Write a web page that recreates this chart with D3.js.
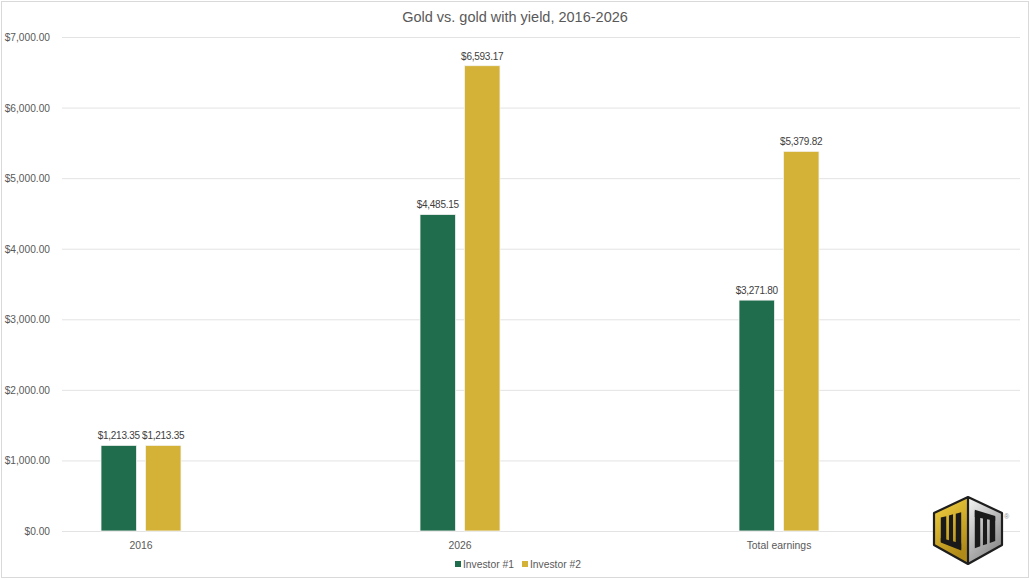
<!DOCTYPE html>
<html>
<head>
<meta charset="utf-8">
<script src="https://cdn.jsdelivr.net/npm/d3@7"></script>
<style>
    body { margin: 0; background: #fff; }
    svg { display: block; font-family: "Liberation Sans", Arial, sans-serif; }
</style>
</head>
<body>
<div id="chart"></div>
<script>
// chart data
const categories = ["2016", "2026", "Total earnings"];
const seriesNames = ["Investor #1", "Investor #2"];
const investor1 = [1213.35, 4485.15, 3271.80];
const investor2 = [1213.35, 6593.17, 5379.82];
const yTicks = [0, 1000, 2000, 3000, 4000, 5000, 6000, 7000];
const colors = ["#206d4d", "#d4b237"];

const width = 1030, height = 580;
const plotLeft = 62, plotRight = 1020, plotTop = 37, plotBottom = 531;

const svg = d3.select("#chart").append("svg")
    .attr("width", width)
    .attr("height", height);

// outer border
svg.append("rect")
    .attr("x", 1.5).attr("y", 1.5)
    .attr("width", width - 3).attr("height", height - 4)
    .attr("fill", "none")
    .attr("stroke", "#d9d9d9");

svg.append("text")
    .attr("x", 515).attr("y", 22)
    .attr("text-anchor", "middle")
    .style("font-size", "14.5px")
    .style("fill", "#595959")
    .text("Gold vs. gold with yield, 2016-2026");

const y = d3.scaleLinear().domain([0, 7000]).range([plotBottom, plotTop]);
const x = d3.scalePoint().domain(categories).range([141, 779]);
const xInner = d3.scaleBand().domain(seriesNames).range([-40, 40]).paddingInner(0.2);

const fmt = d3.format("$,.2f");

// gridlines
svg.append("g")
    .selectAll("line")
    .data(yTicks)
    .enter().append("line")
    .attr("x1", plotLeft).attr("x2", plotRight)
    .attr("y1", d => y(d) + 0.5).attr("y2", d => y(d) + 0.5)
    .attr("stroke", "#e3e3e3")
    .attr("stroke-width", 1);

// y labels
svg.append("g")
    .selectAll("text")
    .data(yTicks)
    .enter().append("text")
    .attr("x", 50)
    .attr("y", d => y(d) + 4)
    .attr("text-anchor", "end")
    .style("font-size", "10.2px")
    .style("fill", "#595959")
    .text(d => fmt(d));

// x labels
svg.append("g")
    .selectAll("text")
    .data(categories)
    .enter().append("text")
    .attr("x", d => x(d))
    .attr("y", 549)
    .attr("text-anchor", "middle")
    .style("font-size", "10.4px")
    .style("fill", "#595959")
    .text(d => d);

const rows = [];
categories.forEach((c, i) => {
    rows.push({ cat: c, series: seriesNames[0], value: investor1[i], color: colors[0] });
    rows.push({ cat: c, series: seriesNames[1], value: investor2[i], color: colors[1] });
});

svg.append("g")
    .selectAll("rect")
    .data(rows)
    .enter().append("rect")
    .attr("x", d => x(d.cat) + xInner(d.series))
    .attr("y", d => y(d.value))
    .attr("width", xInner.bandwidth())
    .attr("height", d => y(0) - y(d.value))
    .attr("fill", d => d.color)
    .attr("stroke", "#f4f4f4")
    .attr("stroke-width", 0.8);

svg.append("g")
    .selectAll("text")
    .data(rows)
    .enter().append("text")
    .attr("x", d => x(d.cat) + xInner(d.series) + xInner.bandwidth() / 2)
    .attr("y", d => y(d.value) - 6)
    .attr("text-anchor", "middle")
    .style("font-size", "10px")
    .style("letter-spacing", "-0.25px")
    .style("fill", "#404040")
    .text(d => fmt(d.value));

// legend
const legend = svg.append("g");
const legendX = [455, 522];
seriesNames.forEach((s, i) => {
    legend.append("rect")
        .attr("x", legendX[i]).attr("y", 561)
        .attr("width", 6).attr("height", 6)
        .attr("fill", colors[i]);
    legend.append("text")
        .attr("x", legendX[i] + 8).attr("y", 568)
        .style("font-size", "10.3px")
        .style("fill", "#595959")
        .text(s);
});

// logo
const defs = svg.append("defs");
const gGold = defs.append("linearGradient").attr("id", "gold")
    .attr("x1", 0).attr("y1", 0).attr("x2", 0.4).attr("y2", 1);
gGold.append("stop").attr("offset", "0%").attr("stop-color", "#f5d443");
gGold.append("stop").attr("offset", "100%").attr("stop-color", "#b08a18");
const gSilver = defs.append("linearGradient").attr("id", "silver")
    .attr("x1", 0).attr("y1", 0).attr("x2", 0.6).attr("y2", 1);
gSilver.append("stop").attr("offset", "0%").attr("stop-color", "#f6f6f6");
gSilver.append("stop").attr("offset", "100%").attr("stop-color", "#8a8a8a");

const logo = svg.append("g").attr("transform", "translate(968,497)");
// face mapping: u across (0 = outer edge, 1 = middle), v down
function face(side) {
    return (u, v) => {
        const top = 16 - 16 * u, bottom = 48 + 19 * u;
        return [side * (34 - 34 * u), top + v * (bottom - top)];
    };
}
function poly(f, pts) {
    return "M" + pts.map(p => f(p[0], p[1]).join(",")).join("L") + "Z";
}
const left = face(-1), right = face(1);
logo.append("path").attr("d", poly(left, [[0, 0], [1, 0], [1, 1], [0, 1]])).attr("fill", "url(#gold)");
logo.append("path").attr("d", poly(right, [[0, 0], [1, 0], [1, 1], [0, 1]])).attr("fill", "url(#silver)");

const bars = [[0.2, 0.36], [0.44, 0.56], [0.64, 0.8]];
// left face: letter joined at the bottom
bars.forEach(b => {
    logo.append("path").attr("d", poly(left, [[b[0], 0.2], [b[1], 0.2], [b[1], 0.82], [b[0], 0.82]])).attr("fill", "#1a1a1a");
});
logo.append("path").attr("d", poly(left, [[0.2, 0.72], [0.8, 0.72], [0.8, 0.84], [0.2, 0.84]])).attr("fill", "#1a1a1a");
// right face: letter joined at the top
bars.forEach(b => {
    logo.append("path").attr("d", poly(right, [[b[0], 0.18], [b[1], 0.18], [b[1], 0.8], [b[0], 0.8]])).attr("fill", "#1a1a1a");
});
logo.append("path").attr("d", poly(right, [[0.2, 0.16], [0.8, 0.16], [0.8, 0.28], [0.2, 0.28]])).attr("fill", "#1a1a1a");

logo.append("path")
    .attr("d", "M0,0 L-34,16 L-34,48 L0,67 L34,48 L34,16 Z M0,0 L0,67")
    .attr("fill", "none")
    .attr("stroke", "#1e1e1e")
    .attr("stroke-width", 2.2)
    .attr("stroke-linejoin", "round");
svg.append("text")
    .attr("x", 1004).attr("y", 519)
    .style("font-size", "7px")
    .style("fill", "#888")
    .text("®");
</script>
</body>
</html>
